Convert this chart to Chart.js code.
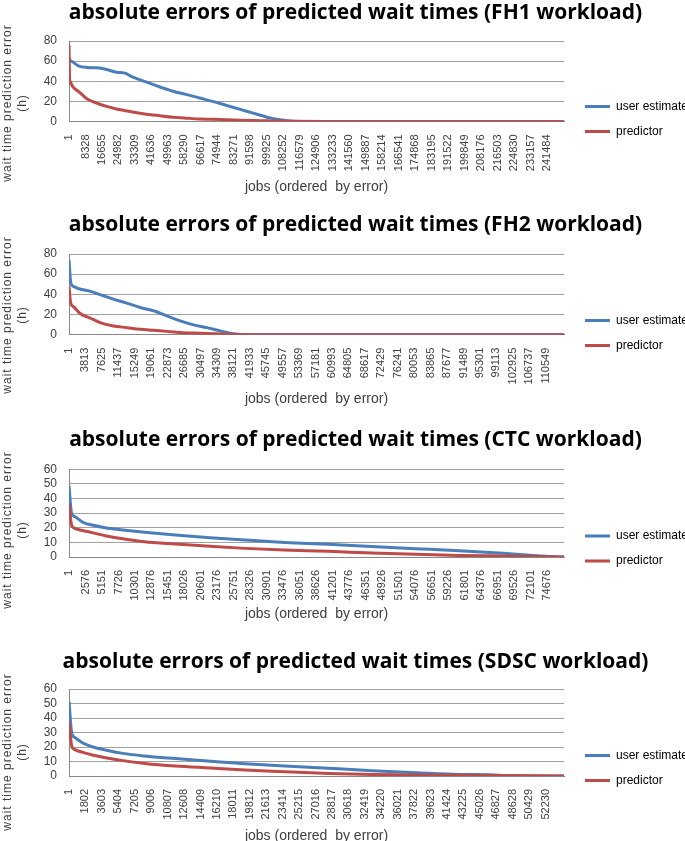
<!DOCTYPE html>
<html>
<head>
<meta charset="utf-8">
<script src="https://cdn.jsdelivr.net/npm/chart.js@4.4.1/dist/chart.umd.min.js"></script>
<style>
  html, body { margin: 0; padding: 0; background: #fff; overflow: hidden; }
  body { width: 685px; height: 841px; position: relative; }
  canvas { position: absolute; left: 0; }
  .ytitle {
    position: absolute; left: 15px; width: 240px; text-align: center;
    font: 12px "Liberation Sans", Arial, sans-serif; line-height: 15px;
    color: #404040; letter-spacing: 1px; white-space: nowrap;
    transform: translate(-50%, -50%) rotate(-90deg);
  }
</style>
</head>
<body>
<canvas id="fh1" width="685" height="200" style="top:0px"></canvas>
<canvas id="fh2" width="685" height="200" style="top:212px"></canvas>
<canvas id="ctc" width="685" height="200" style="top:427px"></canvas>
<canvas id="sdsc" width="685" height="200" style="top:649px"></canvas>
<div class="ytitle" style="top:103px">wait time prediction error<br>(h)</div>
<div class="ytitle" style="top:315px">wait time prediction error<br>(h)</div>
<div class="ytitle" style="top:530px">wait time prediction error<br>(h)</div>
<div class="ytitle" style="top:752px">wait time prediction error<br>(h)</div>
<script>
// FH1
const fh1Jobs = [1, 300, 500, 2000, 5000, 9000, 14000, 19000, 24000, 28000, 32000, 39000, 46000, 52500, 59500, 66000, 72500, 79500, 86500, 93000, 100000, 106500, 113000, 130000, 250000];
const fh1User = [63, 62, 61, 59, 55, 53.7, 53.3, 51.7, 49, 48.3, 44.3, 39.3, 34.3, 30, 26.7, 23.3, 20, 16, 12, 8.3, 4.3, 1.7, 0.3, 0, 0];
const fh1Pred = [76, 42, 40, 34.3, 29.5, 22.7, 18.3, 15, 12.5, 11, 9.5, 7.3, 5.7, 4.3, 3.3, 2.5, 2.2, 1.7, 1.3, 1, 0.7, 0.4, 0.2, 0, 0];
const fh1Ticks = [1, 8328, 16655, 24982, 33309, 41636, 49963, 58290, 66617, 74944, 83271, 91598, 99925, 108252, 116579, 124906, 133233, 141560, 149887, 158214, 166541, 174868, 183195, 191522, 199849, 208176, 216503, 224830, 233157, 241484];

// FH2
const fh2Jobs = [1, 400, 1000, 2500, 5000, 7200, 10300, 13400, 16500, 19600, 22700, 25800, 28900, 32000, 35100, 38200, 41300, 114800];
const fh2User = [74, 52, 48, 45.3, 43, 39.7, 35.3, 31.3, 27, 23.7, 18.7, 13.7, 9.7, 7, 3.7, 1, 0, 0];
const fh2Pred = [48, 31.3, 28, 21.3, 16.3, 12, 8.7, 7, 5.3, 4.3, 3.3, 2.3, 1.7, 1.3, 0.8, 0.3, 0, 0];
const fh2Ticks = [1, 3813, 7625, 11437, 15249, 19061, 22873, 26685, 30497, 34309, 38121, 41933, 45745, 49557, 53369, 57181, 60993, 64805, 68617, 72429, 76241, 80053, 83865, 87677, 91489, 95301, 99113, 102925, 106737, 110549];

// CTC
const ctcJobs = [1, 400, 900, 2250, 3600, 5650, 8400, 11800, 16600, 22000, 27500, 33600, 40500, 47300, 54100, 60900, 67800, 73200, 75500, 77300];
const ctcUser = [48.6, 29.9, 27.6, 23.5, 21.9, 20, 18.5, 16.9, 15, 13.2, 11.6, 10, 8.7, 7.1, 5.7, 4.3, 2.5, 0.9, 0.2, 0];
const ctcPred = [36.3, 21.9, 19.6, 18, 16.7, 14.6, 12.5, 10.5, 8.9, 7.3, 5.9, 4.8, 3.9, 2.7, 1.8, 1.1, 0.7, 0.4, 0.2, 0];
const ctcTicks = [1, 2576, 5151, 7726, 10301, 12876, 15451, 18026, 20601, 23176, 25751, 28326, 30901, 33476, 36051, 38626, 41201, 43776, 46351, 48926, 51501, 54076, 56651, 59226, 61801, 64376, 66951, 69526, 72101, 74676];

// SDSC
const sdscJobs = [1, 300, 600, 1600, 2550, 4000, 5900, 8300, 11650, 15500, 19300, 23650, 28450, 33250, 38050, 42800, 47150, 47650, 53350, 54250];
const sdscUser = [51.3, 29.4, 26.7, 22.5, 20.2, 17.9, 15.6, 13.8, 12, 10.1, 8.5, 6.9, 5.3, 3.7, 2.3, 1.1, 0.5, 0, 0, 0];
const sdscPred = [37.5, 20.7, 18.4, 16.1, 14.5, 12.6, 10.6, 8.7, 6.9, 5.5, 4.1, 3, 1.8, 1.1, 0.7, 0.5, 0.3, 0.3, 0, 0];
const sdscTicks = [1, 1802, 3603, 5404, 7205, 9006, 10807, 12608, 14409, 16210, 18011, 19812, 21613, 23414, 25215, 27016, 28817, 30618, 32419, 34220, 36021, 37822, 39623, 41424, 43225, 45026, 46827, 48628, 50429, 52230];

// y axis ticks
const yTicks80 = [0, 20, 40, 60, 80];
const yTicks60 = [0, 10, 20, 30, 40, 50, 60];

const BLUE = '#4a7ebb';
const RED = '#be4b48';
const FONT = '"Liberation Sans", Arial, sans-serif';

// legend sits a bit right of / lower than where chart.js puts it
Chart.register({
  id: 'legendShift',
  afterLayout(chart, args, opts) {
    const lg = chart.legend;
    if (!lg) return;
    lg.left += opts.dx || 0;
    lg.right += opts.dx || 0;
    lg.top += opts.dy || 0;
    lg.bottom += opts.dy || 0;
  }
});

function drawPanel(id, name, jobs, user, pred, ticks, jobMax, yTicks, lay) {
  const toPts = vals => jobs.map((j, i) => ({ x: j, y: vals[i] }));
  new Chart(document.getElementById(id), {
    type: 'line',
    data: {
      datasets: [
        { label: 'user estimate', data: toPts(user), borderColor: BLUE, backgroundColor: BLUE,
          borderWidth: 3, pointRadius: 0, cubicInterpolationMode: 'monotone', order: 1 },
        { label: 'predictor', data: toPts(pred), borderColor: RED, backgroundColor: RED,
          borderWidth: 3, pointRadius: 0, cubicInterpolationMode: 'monotone', order: 0 }
      ]
    },
    options: {
      responsive: false,
      animation: false,
      layout: { padding: { left: 26, right: 0, top: 0, bottom: 0 } },
      plugins: {
        title: {
          display: true,
          text: 'absolute errors of predicted wait times (' + name + ' workload)',
          color: '#000',
          font: { family: '"Open Sans", ' + FONT, size: 21, weight: 'bold', lineHeight: 1.2 },
          padding: { top: 0.4, bottom: lay.titleGap }
        },
        legend: {
          position: 'right',
          maxWidth: 121,
          labels: {
            usePointStyle: true, pointStyle: 'line', pointStyleWidth: 25,
            padding: 13, color: '#000',
            font: { family: FONT, size: 12 },
            sort: (a, b) => a.datasetIndex - b.datasetIndex
          }
        },
        tooltip: { enabled: false },
        legendShift: { dx: 8, dy: lay.legendDy }
      },
      scales: {
        x: {
          type: 'linear', min: 0, max: jobMax,
          afterBuildTicks: ax => { ax.ticks = ticks.map(v => ({ value: v })); },
          afterFit: ax => { ax.height = lay.xAxisH; },
          ticks: { autoSkip: false, minRotation: 90, maxRotation: 90, padding: 5,
                   color: '#404040', font: { family: FONT, size: 11 }, callback: v => String(v) },
          grid: { display: false },
          border: { color: '#888' },
          title: { display: true, text: 'jobs (ordered  by error)', color: '#404040',
                   font: { family: FONT, size: 14 }, padding: { top: 0, bottom: 4 } }
        },
        y: {
          min: 0, max: yTicks[yTicks.length - 1],
          afterBuildTicks: ax => { ax.ticks = yTicks.map(v => ({ value: v })); },
          afterFit: ax => { ax.width = 43; },
          ticks: { autoSkip: false, padding: 12, color: '#404040', font: { family: FONT, size: 12 } },
          grid: { color: '#a0a0a0', drawTicks: false },
          border: { color: '#888' }
        }
      }
    }
  });
}

drawPanel('fh1', 'FH1', fh1Jobs, fh1User, fh1Pred, fh1Ticks, 250000, yTicks80, { titleGap: 15.4, xAxisH: 78.5, legendDy: 19 });
drawPanel('fh2', 'FH2', fh2Jobs, fh2User, fh2Pred, fh2Ticks, 114800, yTicks80, { titleGap: 16.4, xAxisH: 77.3, legendDy: 21 });
drawPanel('ctc', 'CTC', ctcJobs, ctcUser, ctcPred, ctcTicks, 77300, yTicks60, { titleGap: 16.7, xAxisH: 70, legendDy: 21.5 });
drawPanel('sdsc', 'SDSC', sdscJobs, sdscUser, sdscPred, sdscTicks, 54250, yTicks60, { titleGap: 14.4, xAxisH: 73, legendDy: 19 });
</script>
</body>
</html>
